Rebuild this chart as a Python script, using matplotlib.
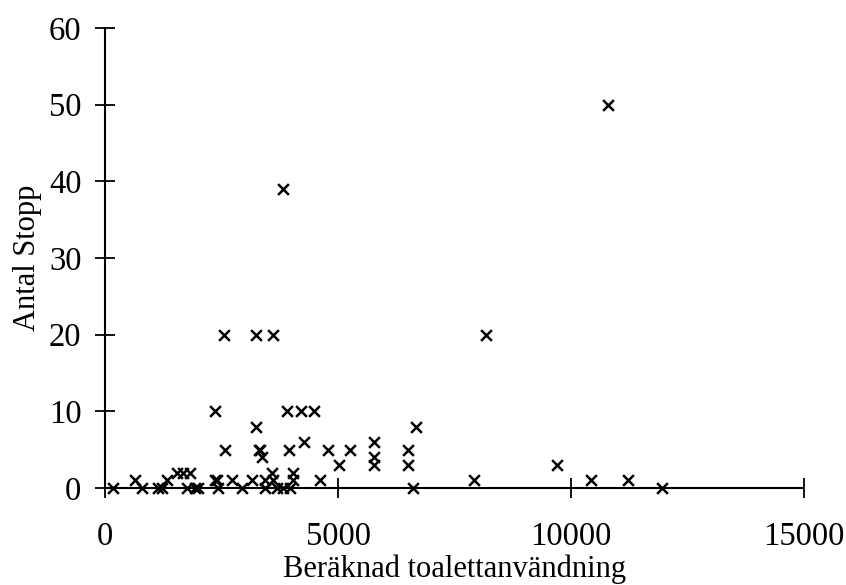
import matplotlib
matplotlib.use("Agg")
import matplotlib.pyplot as plt

# Beräknad toalettanvändning vs antal stopp
toalett = [10800, 3814, 8185, 2550, 3236, 3600,
           2357, 3900, 4200, 4478, 3236, 6664,
           4264, 5764, 2571, 3300, 3321, 3364, 3943, 4778, 5250, 6493,
           5764, 5014, 5764, 6493, 9707,
           7928, 10435, 11228, 11957, 6600,
           171, 643, 793, 1136, 1221, 1329, 1543, 1671, 1821, 1757, 1928, 2000,
           2357, 2400, 2421, 2721, 2936, 3150, 3428, 3428, 3578, 3600, 3685,
           3814, 3964, 4028, 4028, 4607]
stopp = [50, 39, 20, 20, 20, 20,
         10, 10, 10, 10, 8, 8,
         6, 6, 5, 5, 5, 4, 5, 5, 5, 5,
         4, 3, 3, 3, 3,
         1, 1, 1, 0, 0,
         0, 1, 0, 0, 0, 1, 2, 2, 2, 0, 0, 0,
         1, 1, 0, 1, 0, 1, 1, 0, 2, 1, 0,
         0, 0, 2, 1, 1]

xticks = [0, 5000, 10000, 15000]
yticks = [0, 10, 20, 30, 40, 50, 60]

plt.rcParams['font.family'] = ['Liberation Serif', 'DejaVu Serif']
plt.rcParams['font.size'] = 22

fig = plt.figure(figsize=(8.46, 5.85), dpi=100)
ax = fig.add_axes([0.1241, 0.1658, 0.8263, 0.7863])

ax.scatter(toalett, stopp, marker='x', s=60, color='black', linewidths=1.8,
           clip_on=False, zorder=3)

ax.set_xlim(0, 15000)
ax.set_ylim(0, 60)
ax.set_xticks(xticks)
ax.set_yticks(yticks)

for side in ['top', 'right']:
    ax.spines[side].set_visible(False)
for side in ['left', 'bottom']:
    ax.spines[side].set_linewidth(1.5)

ax.tick_params(axis='both', direction='inout', length=14, width=1.3,
               labelsize=23.5)
ax.tick_params(axis='x', pad=17)
ax.tick_params(axis='y', pad=10)

ax.set_xlabel('Beräknad toalettanvändning', labelpad=2)
ax.set_ylabel('Antal Stopp', labelpad=5)

fig.savefig('out.png', dpi=100)
